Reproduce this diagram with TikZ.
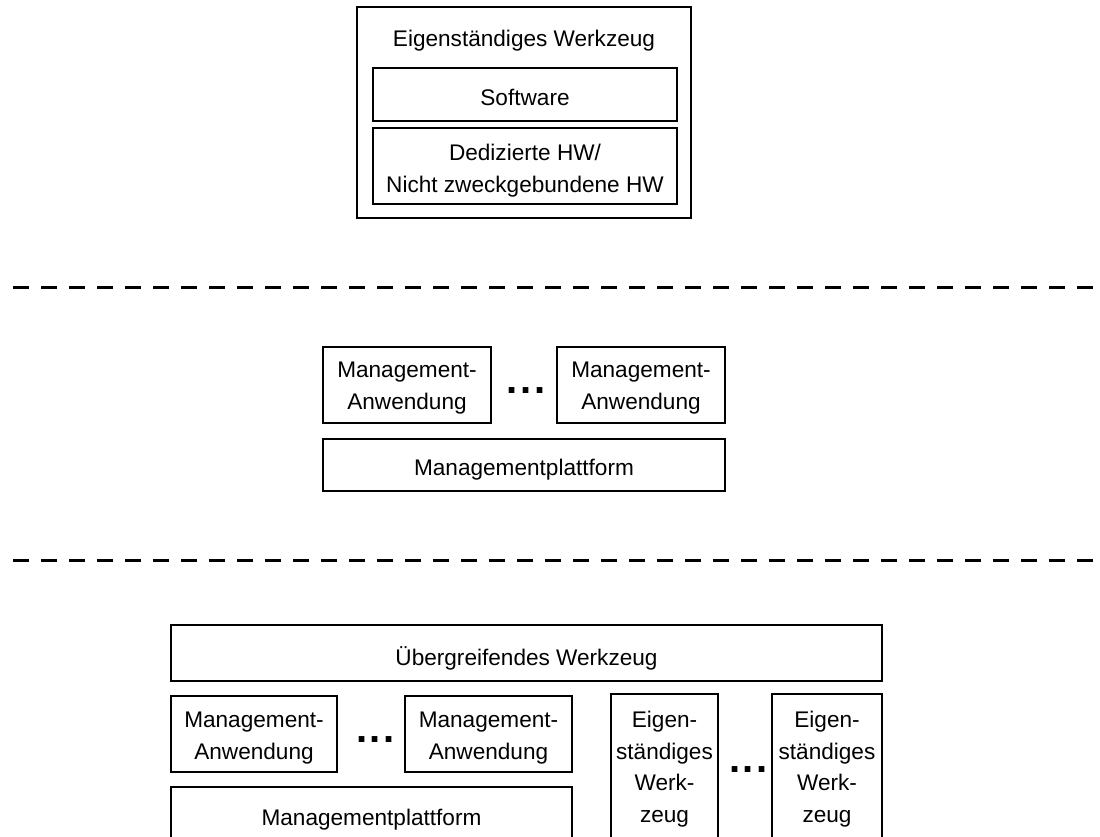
\documentclass[tikz,border=0pt]{standalone}
\usepackage{fontspec}
\setmainfont{Liberation Sans}
\begin{document}
\begin{tikzpicture}[x=1pt,y=-1pt,
  box/.style={draw, line width=1.1pt, inner sep=0pt},
  % multi-line texts are placed by the baseline of their last line
  txt/.style={inner sep=0pt, anchor=base, align=center,
    font=\fontsize{22.6}{31.5}\selectfont},
  sep/.style={line width=3pt, dash pattern=on 16pt off 12pt},
  dots/.style={inner sep=0pt, anchor=base,
    font=\fontsize{40}{40}\bfseries\selectfont}]
\newcommand{\ellip}{.\kern2.6pt.\kern2.6pt.}
\useasboundingbox (0,0) rectangle (1100,837);
\clip (0,0) rectangle (1100,837);

% --- standalone tool ---
\node[box, minimum width=334pt, minimum height=211pt] (tool) at (524,112.5) {};
\node[txt] (toolt) at (524,47) {Eigenständiges Werkzeug};
\node[box, minimum width=304pt, minimum height=53pt] (sw) at (525,94.5) {};
\node[txt] (swt) at (525,106) {Software};
\node[box, minimum width=304pt, minimum height=76pt] (hw) at (525,166) {};
\node[txt] (hwt) at (525,192.5) {Dedizierte HW/\\Nicht zweckgebundene HW};

% --- separators ---
\coordinate (s1l) at (13,287);
\coordinate (s1r) at (1097,287);
\coordinate (s2l) at (13,560);
\coordinate (s2r) at (1097,560);
\draw[sep] (s1l) -- (s1r);
\draw[sep] (s2l) -- (s2r);

% --- platform with applications ---
\node[box, minimum width=168pt, minimum height=76pt] (ma1) at (407,385) {};
\node[txt] (ma1t) at (407,409) {Management-\\Anwendung};
\node[box, minimum width=168pt, minimum height=76pt] (ma2) at (641,385) {};
\node[txt] (ma2t) at (641,409) {Management-\\Anwendung};
\node[dots] (mdots) at (526,393) {\ellip};
\node[box, minimum width=402pt, minimum height=52pt] (mp) at (524,465) {};
\node[txt] (mpt) at (524,475.5) {Managementplattform};

% --- integrated tool ---
\node[box, minimum width=711pt, minimum height=56pt] (ueb) at (526.5,653) {};
\node[txt] (uebt) at (526.5,665) {Übergreifendes Werkzeug};
\node[box, minimum width=166pt, minimum height=76pt] (bma1) at (254,734) {};
\node[txt] (bma1t) at (254,759) {Management-\\Anwendung};
\node[box, minimum width=167pt, minimum height=76pt] (bma2) at (488.5,734) {};
\node[txt] (bma2t) at (488.5,759) {Management-\\Anwendung};
\node[dots] (bdots1) at (375.5,742) {\ellip};
\node[box, minimum width=401pt, minimum height=54pt] (bmp) at (371.5,814) {};
\node[txt] (bmpt) at (371.5,825) {Managementplattform};
\node[box, minimum width=107pt, minimum height=152pt] (et1) at (664.5,770) {};
\node[txt] (et1t) at (664.5,822) {Eigen-\\ständiges\\Werk-\\zeug};
\node[box, minimum width=110pt, minimum height=152pt] (et2) at (827,770) {};
\node[txt] (et2t) at (827,822) {Eigen-\\ständiges\\Werk-\\zeug};
\node[dots] (bdots2) at (748.5,772) {\ellip};
\end{tikzpicture}
\end{document}
